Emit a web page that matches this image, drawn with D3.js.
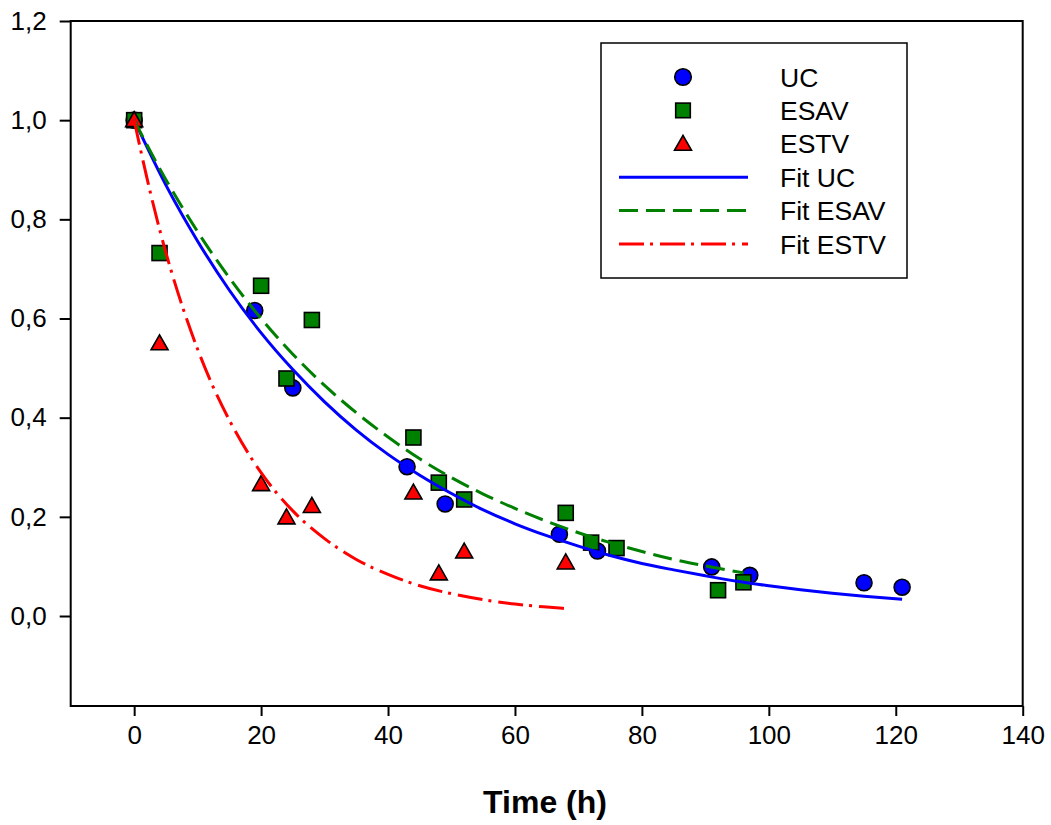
<!DOCTYPE html>
<html>
<head>
<meta charset="utf-8">
<script src="https://cdn.jsdelivr.net/npm/d3@7"></script>
<style>
  html, body { margin: 0; padding: 0; background: #ffffff; }
  svg { display: block; }
  text { font-family: "Liberation Sans", Arial, sans-serif; fill: #000; }
</style>
</head>
<body>
<svg id="chart" width="1051" height="825"></svg>
<script>
// ---- data ----
const xTicks = [0, 20, 40, 60, 80, 100, 120, 140];
const yTicks = [0, 0.2, 0.4, 0.6, 0.8, 1.0, 1.2];

const ucTime  = [0, 19, 25, 43, 49, 67, 73, 91, 97, 115, 121];
const ucValue = [1.0, 0.616, 0.460, 0.301, 0.226, 0.165, 0.131, 0.099, 0.082, 0.067, 0.058];

const esavTime  = [0, 4, 20, 24, 28, 44, 48, 52, 68, 72, 76, 92, 96];
const esavValue = [1.0, 0.732, 0.666, 0.479, 0.597, 0.360, 0.269, 0.235, 0.208, 0.148, 0.137, 0.052, 0.068];

const estvTime  = [0, 4, 20, 24, 28, 44, 48, 52, 68];
const estvValue = [1.0, 0.550, 0.266, 0.199, 0.222, 0.249, 0.086, 0.130, 0.108];

// fitted curves
const fitUcTime  = [0, 5, 10, 15, 20, 25, 30, 35, 40, 45, 50, 55, 60, 65, 70, 75, 80, 85, 90, 95, 100, 105, 110, 115, 121];
const fitUcValue = [1.0, 0.869, 0.756, 0.657, 0.571, 0.497, 0.432, 0.375, 0.326, 0.284, 0.247, 0.214, 0.186, 0.162, 0.141, 0.122, 0.106, 0.093, 0.081, 0.070, 0.061, 0.053, 0.046, 0.040, 0.034];

const fitEsavTime  = [0, 5, 10, 15, 20, 25, 30, 35, 40, 45, 50, 55, 60, 65, 70, 75, 80, 85, 90, 96];
const fitEsavValue = [1.0, 0.880, 0.775, 0.682, 0.600, 0.528, 0.465, 0.410, 0.361, 0.317, 0.279, 0.246, 0.217, 0.191, 0.168, 0.148, 0.130, 0.114, 0.101, 0.087];

const fitEstvTime  = [0, 2, 4, 6, 8, 10, 12, 15, 20, 25, 30, 35, 40, 45, 50, 55, 60, 65, 68];
const fitEstvValue = [1.0, 0.884, 0.780, 0.689, 0.609, 0.538, 0.475, 0.395, 0.289, 0.212, 0.156, 0.114, 0.084, 0.061, 0.045, 0.033, 0.024, 0.018, 0.015];

const legendLabels = ["UC", "ESAV", "ESTV", "Fit UC", "Fit ESAV", "Fit ESTV"];
const xTitle = "Time (h)";

(function () {
  // ---- layout ----
  const pL = 70.7, pR = 1022.7, pT = 21, pB = 706;
  const svg = d3.select("#chart");

  const x = d3.scaleLinear().domain([-10, 140]).range([pL, pR]);
  const y = d3.scaleLinear().domain([-0.1815, 1.2]).range([pB, pT]);

  const BLUE = "#0000ff", GREEN = "#008000", RED = "#ff0000";

  // axes
  const xAxis = d3.axisBottom(x).tickValues(xTicks).tickSize(10).tickPadding(10).tickFormat(d3.format("d"));
  const yAxis = d3.axisLeft(y).tickValues(yTicks).tickSize(11).tickPadding(13)
    .tickFormat(d => d3.format(".1f")(d).replace(".", ","));

  const gx = svg.append("g").attr("transform", `translate(0,${pB})`).call(xAxis);
  const gy = svg.append("g").attr("transform", `translate(${pL},0)`).call(yAxis);
  [gx, gy].forEach(g => {
    g.select(".domain").remove();
    g.selectAll(".tick line").attr("stroke", "#000").attr("stroke-width", 2);
    g.selectAll(".tick text").style("font-family", '"Liberation Sans", Arial, sans-serif')
      .style("font-size", "26px").attr("fill", "#000");
  });

  // frame
  svg.append("rect").attr("x", pL).attr("y", pT).attr("width", pR - pL).attr("height", pB - pT)
    .attr("fill", "none").attr("stroke", "#000").attr("stroke-width", 2);

  // marker helpers
  const triPath = "M0,-8.5L8.5,6.5L-8.5,6.5Z";
  function circles(g, tArr, vArr) {
    g.selectAll(null).data(tArr).enter().append("circle")
      .attr("cx", d => x(d)).attr("cy", (d, i) => y(vArr[i])).attr("r", 8)
      .attr("fill", BLUE).attr("stroke", "#000").attr("stroke-width", 1.6);
  }
  function squares(g, tArr, vArr) {
    g.selectAll(null).data(tArr).enter().append("rect")
      .attr("x", d => x(d) - 7.5).attr("y", (d, i) => y(vArr[i]) - 7.5).attr("width", 15).attr("height", 15)
      .attr("fill", GREEN).attr("stroke", "#000").attr("stroke-width", 1.6);
  }
  function triangles(g, tArr, vArr) {
    g.selectAll(null).data(tArr).enter().append("path")
      .attr("d", triPath).attr("transform", (d, i) => `translate(${x(d)},${y(vArr[i])})`)
      .attr("fill", RED).attr("stroke", "#000").attr("stroke-width", 1.6);
  }

  const marks = svg.append("g");
  circles(marks, ucTime, ucValue);
  squares(marks, esavTime, esavValue);
  triangles(marks, estvTime, estvValue);

  // fit lines
  const line = d3.line().x(d => x(d[0])).y(d => y(d[1])).curve(d3.curveMonotoneX);
  function fit(tArr, vArr, color, dash) {
    svg.append("path").datum(tArr.map((t, i) => [t, vArr[i]]))
      .attr("d", line).attr("fill", "none").attr("stroke", color).attr("stroke-width", 3)
      .attr("stroke-dasharray", dash);
  }
  fit(fitUcTime, fitUcValue, BLUE, null);
  fit(fitEsavTime, fitEsavValue, GREEN, "19,8");
  fit(fitEstvTime, fitEstvValue, RED, "25,6,3,7");

  // legend
  const lg = svg.append("g");
  lg.append("rect").attr("x", 601).attr("y", 43).attr("width", 306).attr("height", 235)
    .attr("fill", "#fff").attr("stroke", "#000").attr("stroke-width", 1.5);
  const rowY = i => 77 + i * 33.4;
  const symX = 683;
  lg.append("circle").attr("cx", symX).attr("cy", rowY(0)).attr("r", 8.3)
    .attr("fill", BLUE).attr("stroke", "#000").attr("stroke-width", 1.6);
  lg.append("rect").attr("x", symX - 7.3).attr("y", rowY(1) - 7.3).attr("width", 14.6).attr("height", 14.6)
    .attr("fill", GREEN).attr("stroke", "#000").attr("stroke-width", 1.6);
  lg.append("path").attr("d", triPath).attr("transform", `translate(${symX},${rowY(2)})`)
    .attr("fill", RED).attr("stroke", "#000").attr("stroke-width", 1.6);
  [[BLUE, null], [GREEN, "19,8"], [RED, "25,6,3,7"]].forEach((s, k) => {
    lg.append("line").attr("x1", 619).attr("x2", 748).attr("y1", rowY(3 + k)).attr("y2", rowY(3 + k))
      .attr("stroke", s[0]).attr("stroke-width", 3).attr("stroke-dasharray", s[1]);
  });
  legendLabels.forEach((t, i) => {
    lg.append("text").attr("x", 780).attr("y", rowY(i) + 9.5).style("font-size", "26.5px").text(t);
  });

  // axis title
  svg.append("text").attr("x", 545).attr("y", 813).attr("text-anchor", "middle")
    .style("font-size", "32px").style("font-weight", "bold").text(xTitle);
})();
</script>
</body>
</html>
